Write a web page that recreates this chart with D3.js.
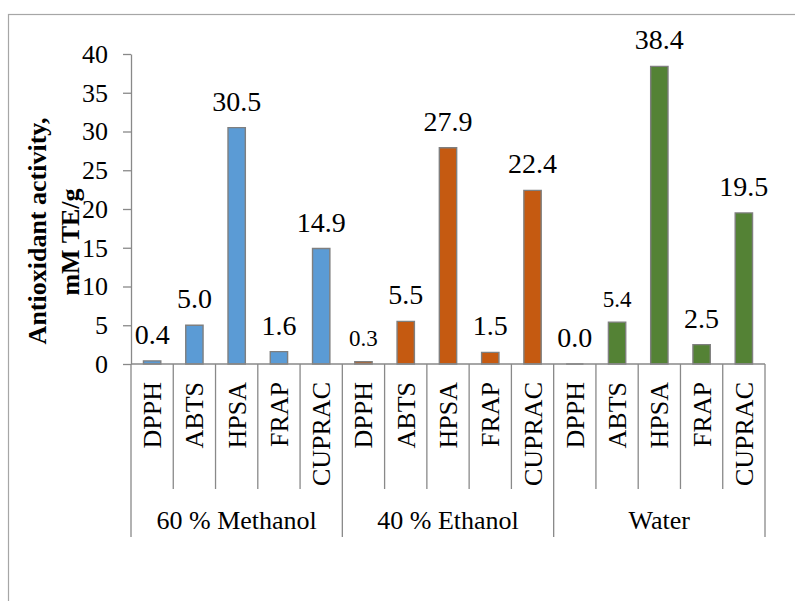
<!DOCTYPE html>
<html>
<head>
<meta charset="utf-8">
<script src="https://cdn.jsdelivr.net/npm/d3@7"></script>
<style>
  html, body { margin: 0; padding: 0; background: #fff; }
  svg { display: block; font-family: "Liberation Serif", "Times New Roman", serif; }
</style>
</head>
<body>
<svg id="chart" width="795" height="601"></svg>
<script>
// Solvent groups and the assays measured in each
const groups = ["60 % Methanol", "40 % Ethanol", "Water"];
const assays = ["DPPH", "ABTS", "HPSA", "FRAP", "CUPRAC"];

// Antioxidant activity (mM TE/g) per assay, one array per solvent
const methanolValues = [0.4, 5.0, 30.5, 1.6, 14.9];
const ethanolValues  = [0.3, 5.5, 27.9, 1.5, 22.4];
const waterValues    = [0.0, 5.4, 38.4, 2.5, 19.5];

const groupColors = ["#5B9BD5", "#C55A11", "#548235"];
const yTicks = [0, 5, 10, 15, 20, 25, 30, 35, 40];
// labels printed in a smaller size
const smallLabels = ["40 % Ethanol|DPPH", "Water|ABTS"];

const seriesValues = [methanolValues, ethanolValues, waterValues];
const rows = [];
groups.forEach((g, gi) => {
  assays.forEach((a, ai) => {
    rows.push({ key: g + "|" + a, group: g, gi, assay: a, value: seriesValues[gi][ai] });
  });
});

const svg = d3.select("#chart");

// outer chart frame (runs off the right and bottom edges)
svg.append("rect")
  .attr("x", 8.5).attr("y", 14.5)
  .attr("width", 900).attr("height", 700)
  .attr("fill", "none").attr("stroke", "#A6A6A6").attr("stroke-width", 1.2);

const plotLeft = 131, plotRight = 765, plotTop = 54, plotBottom = 364;

const x = d3.scaleBand()
  .domain(rows.map(d => d.key))
  .range([plotLeft, plotRight])
  .paddingInner(0).paddingOuter(0);

const y = d3.scaleLinear().domain([0, 40]).range([plotBottom, plotTop]);

const axisColor = "#898989";

// y axis
const yAxis = svg.append("g")
  .attr("transform", `translate(${plotLeft},0)`)
  .call(d3.axisLeft(y).tickValues(yTicks).tickSize(8).tickSizeOuter(0).tickPadding(15).tickFormat(d3.format("d")));
yAxis.select(".domain").attr("stroke", axisColor).attr("stroke-width", 1.3);
yAxis.selectAll(".tick line").attr("stroke", axisColor).attr("stroke-width", 1.3);
yAxis.selectAll(".tick text")
  .attr("font-size", 26).attr("fill", "#000")
  .attr("font-family", "Liberation Serif, Times New Roman, serif");

// bars (paths so a zero value still shows its outline)
const barW = x.bandwidth() * 0.41;
svg.append("g").selectAll("path")
  .data(rows)
  .join("path")
  .attr("d", d => {
    const cx = x(d.key) + x.bandwidth() / 2;
    const p = d3.path();
    p.moveTo(cx - barW / 2, y(0));
    p.lineTo(cx - barW / 2, y(d.value));
    p.lineTo(cx + barW / 2, y(d.value));
    p.lineTo(cx + barW / 2, y(0));
    p.closePath();
    return p.toString();
  })
  .attr("fill", d => groupColors[d.gi])
  .attr("stroke", "#7F7F7F")
  .attr("stroke-width", 1.4);

// value labels
const fmt = d3.format(".1f");
svg.append("g").selectAll("text")
  .data(rows)
  .join("text")
  .attr("x", d => x(d.key) + x.bandwidth() / 2)
  .attr("y", d => y(d.value) - (smallLabels.includes(d.key) ? 15.5 : 17))
  .attr("text-anchor", "middle")
  .attr("font-size", d => smallLabels.includes(d.key) ? 23 : 28)
  .attr("fill", "#000")
  .text(d => fmt(d.value));

// category axis: baseline, dividers, labels
const catAxis = svg.append("g");
catAxis.append("line")
  .attr("x1", plotLeft).attr("x2", plotRight)
  .attr("y1", y(0)).attr("y2", y(0))
  .attr("stroke", axisColor).attr("stroke-width", 1.3);

const boundaries = rows.map((d, i) => ({ xPos: x(d.key), groupEdge: i % assays.length === 0 }));
boundaries.push({ xPos: plotRight, groupEdge: true });
catAxis.selectAll("line.div")
  .data(boundaries)
  .join("line")
  .attr("class", "div")
  .attr("x1", d => d.xPos).attr("x2", d => d.xPos)
  .attr("y1", y(0)).attr("y2", d => d.groupEdge ? 537 : 489)
  .attr("stroke", axisColor).attr("stroke-width", 1.3);

catAxis.selectAll("text.assay")
  .data(rows)
  .join("text")
  .attr("class", "assay")
  .attr("transform", d => `translate(${x(d.key) + x.bandwidth() / 2 + 9},382) rotate(-90)`)
  .attr("text-anchor", "end")
  .attr("font-size", 26)
  .attr("fill", "#000")
  .text(d => d.assay);

catAxis.selectAll("text.group")
  .data(groups)
  .join("text")
  .attr("class", "group")
  .attr("x", (g, gi) => {
    const first = x(g + "|" + assays[0]);
    const last = x(g + "|" + assays[assays.length - 1]) + x.bandwidth();
    return (first + last) / 2;
  })
  .attr("y", 529)
  .attr("text-anchor", "middle")
  .attr("font-size", 26)
  .attr("fill", "#000")
  .text(g => g);

// y axis title
const title = svg.append("g")
  .attr("font-weight", "bold")
  .attr("font-size", 26)
  .attr("fill", "#000");
title.append("text")
  .attr("transform", "translate(46,231) rotate(-90)")
  .attr("text-anchor", "middle")
  .text("Antioxidant activity,");
title.append("text")
  .attr("transform", "translate(79,242) rotate(-90)")
  .attr("text-anchor", "middle")
  .text("mM TE/g");
</script>
</body>
</html>
